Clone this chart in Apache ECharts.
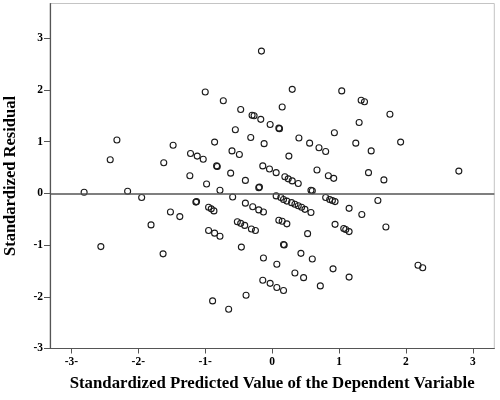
<!DOCTYPE html>
<html>
<head>
<meta charset="utf-8">
<script src="https://cdn.jsdelivr.net/npm/echarts@6/dist/echarts.min.js"></script>
<style>
html,body{margin:0;padding:0;background:#fff;}
#chart{width:500px;height:400px;}
</style>
</head>
<body>
<div id="chart"></div>
<script>
// Standardized predicted values (x) and standardized residuals (y)
var predicted = [
 -2.81,-2.42,-2.32,-2.16,-1.95,-1.62,-1.48,-1.22,-1.12,-1.03,
 -1.23,-0.98,-1.00,-0.86,-0.83,-0.82,-0.78,-0.73,-0.59,-0.62,
 -0.60,-0.49,-0.55,-0.47,-0.40,-0.32,-0.30,-0.27,-0.17,-0.16,
 -0.03,0.10,0.11,0.15,0.30,1.04,1.33,1.38,1.76,1.30,
 -0.12,0.40,0.56,0.70,0.80,0.93,1.25,1.48,1.92,0.25,
 -0.14,-0.04,0.06,0.19,0.24,0.30,0.39,0.67,0.84,0.92,
 1.44,1.67,2.79,-0.19,-0.20,0.58,0.60,
 0.06,0.13,0.17,0.22,0.29,0.34,0.39,0.44,0.49,0.58,
 0.80,0.86,0.90,0.94,1.58,-1.13,-1.14,-1.52,-1.38,-1.81,
 -0.95,-0.91,-0.87,-0.95,-0.86,-0.78,-2.56,-1.63,-0.52,-0.47,
 -0.41,-0.40,-0.29,-0.20,-0.13,-0.31,-0.25,-0.46,-0.89,-0.65,
 -0.39,1.15,1.34,0.10,0.15,0.22,0.94,1.07,1.10,1.15,
 1.70,0.53,0.17,0.18,0.43,0.60,-0.13,0.07,0.34,0.47,
 0.91,1.15,0.72,-0.14,-0.03,0.07,0.17,2.18,2.25
];
var residual = [
 0.02,0.65,1.03,0.04,-0.08,0.59,0.93,0.77,0.72,0.66,
 0.34,0.18,1.96,0.99,0.53,0.52,0.06,1.79,-0.07,0.39,
 0.82,0.75,1.23,1.62,0.25,1.08,1.51,1.50,1.43,2.75,
 1.33,1.26,1.25,1.67,2.01,1.98,1.80,1.77,1.53,1.37,
 0.96,1.07,0.97,0.88,0.81,1.17,0.97,0.82,0.99,0.72,
 0.53,0.47,0.40,0.32,0.28,0.24,0.19,0.45,0.34,0.29,
 0.40,0.26,0.43,0.12,0.11,0.06,0.05,
 -0.05,-0.08,-0.12,-0.15,-0.18,-0.21,-0.24,-0.27,-0.31,-0.37,
 -0.08,-0.12,-0.14,-0.16,-0.14,-0.16,-0.17,-0.36,-0.45,-0.61,
 -0.27,-0.30,-0.34,-0.72,-0.77,-0.83,-1.03,-1.17,-0.55,-0.58,
 -0.62,-0.19,-0.26,-0.32,-0.36,-0.69,-0.72,-1.04,-2.08,-2.24,
 -1.97,-0.29,-0.41,-0.52,-0.54,-0.59,-0.60,-0.68,-0.70,-0.74,
 -0.65,-0.78,-0.99,-1.00,-1.16,-1.27,-1.25,-1.37,-1.54,-1.63,
 -1.46,-1.62,-1.79,-1.68,-1.74,-1.82,-1.88,-1.39,-1.44
];
var xTickValues = [-3,-2,-1,0,1,2,3];
var xTickLabels = ['-3-','-2-','-1-','0','1','2','3'];
var yTickValues = [-3,-2,-1,0,1,2,3];
var yTickLabels = ['-3','-2','-1','0','1','2','3'];

var points = predicted.map(function(v,i){return [v, residual[i]];});

var chart = echarts.init(document.getElementById('chart'), null, {renderer:'canvas'});
var labelFont = {fontFamily:'Liberation Serif', fontWeight:'bold', fontSize:11.5, color:'#000'};
chart.setOption({
  animation:false,
  backgroundColor:'#fff',
  grid:{left:50, right:5.7, top:3.5, bottom:51.5, containLabel:false, outerBoundsMode:'none',
        show:true, borderColor:'#c4c4c4', borderWidth:1, backgroundColor:'#fff'},
  xAxis:{
    type:'value', min:-3.32, max:3.32,
    name:'Standardized Predicted Value of the Dependent Variable',
    nameLocation:'middle', nameGap:27,
    nameTextStyle:{fontFamily:'Liberation Serif', fontWeight:'bold', fontSize:16.8, color:'#000'},
    axisLine:{show:true, onZero:false, lineStyle:{color:'#555', width:1.2}},
    axisTick:{show:true, length:5, customValues:xTickValues, lineStyle:{color:'#555'}},
    axisLabel:Object.assign({margin:8, customValues:xTickValues, formatter:function(v){
      var i = xTickValues.indexOf(Math.round(v)); return i>=0 ? xTickLabels[i] : '';}}, labelFont),
    splitLine:{show:false}
  },
  yAxis:{
    type:'value', min:-3, max:3.67,
    name:'Standardized Residual',
    nameLocation:'middle', nameGap:31,
    nameTextStyle:{fontFamily:'Liberation Serif', fontWeight:'bold', fontSize:16.5, color:'#000'},
    axisLine:{show:true, onZero:false, lineStyle:{color:'#555', width:1.2}},
    axisTick:{show:true, length:6, customValues:yTickValues, lineStyle:{color:'#555'}},
    axisLabel:Object.assign({margin:7, customValues:yTickValues, formatter:function(v){
      var i = yTickValues.indexOf(Math.round(v)); return i>=0 ? yTickLabels[i] : '';}}, labelFont),
    splitLine:{show:false}
  },
  series:[{
    type:'scatter',
    data:points,
    symbol:'circle',
    symbolSize:6,
    itemStyle:{color:'rgba(0,0,0,0)', borderColor:'#1a1a1a', borderWidth:1.1, opacity:1},
    markLine:{
      silent:true, symbol:['none','none'],
      label:{show:false},
      lineStyle:{color:'#555', width:1.5, type:'solid'},
      data:[{yAxis:0}]
    }
  }]
});
</script>
</body>
</html>
